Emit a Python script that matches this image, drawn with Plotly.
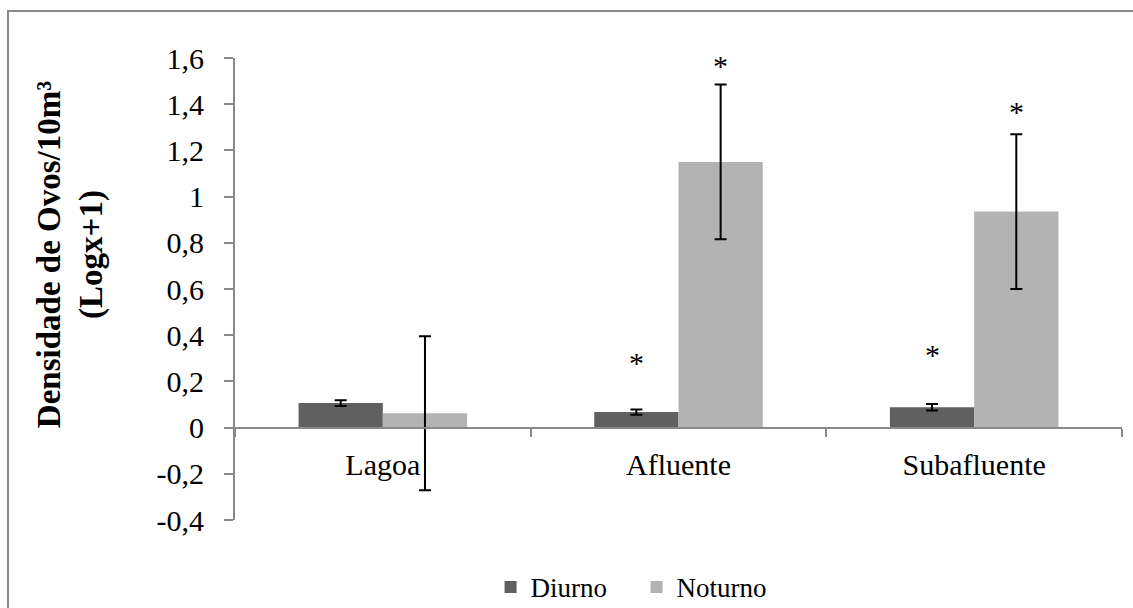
import plotly.graph_objects as go

# Egg density by site and period (log x+1 transformed)
sites = ["Lagoa", "Afluente", "Subafluente"]
diurno_mean = [0.106, 0.067, 0.088]
diurno_err = [0.012, 0.011, 0.014]
noturno_mean = [0.062, 1.150, 0.935]
noturno_err = [0.333, 0.335, 0.335]

# Significance markers (asterisk heights, None = no marker)
diurno_star = [None, 0.29, 0.326]
noturno_star = [None, 1.577, 1.375]

y_ticks = [-0.4, -0.2, 0, 0.2, 0.4, 0.6, 0.8, 1, 1.2, 1.4, 1.6]
y_tick_text = ["-0,4", "-0,2", "0", "0,2", "0,4", "0,6", "0,8", "1", "1,2", "1,4", "1,6"]

FONT = "Liberation Serif, Times New Roman, serif"
AXIS_GRAY = "#898989"

fig = go.Figure()
fig.add_trace(go.Bar(
    name="Diurno", x=sites, y=diurno_mean, marker_color="#606060",
    marker_line_width=0,
    error_y=dict(type="data", array=diurno_err, color="black", thickness=2, width=6),
))
fig.add_trace(go.Bar(
    name="Noturno", x=sites, y=noturno_mean, marker_color="#b3b3b3",
    marker_line_width=0,
    error_y=dict(type="data", array=noturno_err, color="black", thickness=2, width=6),
))

# Asterisks above bars: offsets place them over each bar of the group
for stars, off in ((diurno_star, -0.142), (noturno_star, 0.142)):
    for i, s in enumerate(stars):
        if s is None:
            continue
        fig.add_annotation(
            x=i + off, y=s, xref="x", yref="y", text="*", showarrow=False,
            font=dict(family=FONT, size=30, color="black"),
            yanchor="middle", yshift=-2,
        )

# Y-axis title
fig.add_annotation(
    x=-0.233, y=0.574, xref="paper", yref="paper",
    text="<b>Densidade de Ovos/10m³</b><br><b>(Logx+1)</b>",
    textangle=-90, showarrow=False,
    font=dict(family=FONT, size=33, color="black"),
)

# Outer frame
fig.add_shape(
    type="rect", xref="paper", yref="paper",
    x0=-0.2559, x1=1.2, y0=-0.4, y1=1.1017,
    line=dict(color=AXIS_GRAY, width=2), fillcolor="rgba(0,0,0,0)", layer="below",
)

fig.update_layout(
    width=1133, height=608,
    margin=dict(l=235, r=11, t=58, b=88, autoexpand=False),
    paper_bgcolor="white", plot_bgcolor="white",
    barmode="group", bargap=0.43, bargroupgap=0,
    font=dict(family=FONT, color="black"),
    showlegend=True,
    legend=dict(
        orientation="h", xref="container", yref="container",
        x=0.433, xanchor="left", y=0.034, yanchor="middle",
        font=dict(family=FONT, size=27, color="black"),
        traceorder="normal", entrywidth=101,
    ),
    xaxis=dict(
        type="category", range=[-0.5, 2.5],
        anchor="free", position=0.2,
        showline=True, linecolor=AXIS_GRAY, linewidth=2,
        ticks="outside", tickson="boundaries", ticklen=8, tickwidth=2, tickcolor=AXIS_GRAY,
        tickfont=dict(family=FONT, size=30, color="black"),
        ticklabelstandoff=10,
        showgrid=False, zeroline=False, automargin=False,
    ),
    yaxis=dict(
        range=[-0.4, 1.6], tickvals=y_ticks, ticktext=y_tick_text,
        showline=True, linecolor=AXIS_GRAY, linewidth=2,
        ticks="outside", ticklen=9, tickwidth=2, tickcolor=AXIS_GRAY,
        tickfont=dict(family=FONT, size=30, color="black"),
        ticklabelstandoff=14,
        showgrid=False, zeroline=False, automargin=False,
    ),
)

fig.write_html("out.html")
